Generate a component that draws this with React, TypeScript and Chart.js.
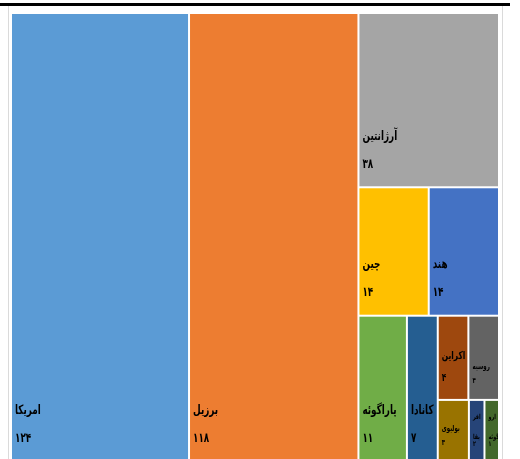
import React, { useEffect, useRef } from "react";
import { Chart, registerables } from "chart.js";

Chart.register(...registerables);

const countries = [
  "امریکا",
  "برزیل",
  "آرژانتین",
  "چین",
  "هند",
  "پاراگوئه",
  "کانادا",
  "اکراین",
  "روسیه",
  "بولیوی",
  "افریقا",
  "اروگوئه",
];
const production = [124, 118, 38, 14, 14, 11, 7, 4, 4, 3, 1.5, 1.4];
const colors = [
  "#5B9BD5",
  "#ED7D31",
  "#A5A5A5",
  "#FFC000",
  "#4472C4",
  "#70AD47",
  "#255E91",
  "#9E480E",
  "#636363",
  "#997300",
  "#264478",
  "#43682B",
];
// label font sizes (style only)
const labelSizes = [13, 13, 13, 13, 13, 13, 13, 13, 8, 8, 7, 7];
// nesting of the treemap (h = side by side, v = stacked), indices into the arrays above
type TNode = number | (string | TNode)[];
const layoutTree: TNode = ["h", 0, 1, ["v", 2, ["h", 3, 4], ["h", 5, 6, ["v", ["h", 7, 8], ["h", 9, 10, 11]]]]];

type Rect = { x0: number; y0: number; x1: number; y1: number };

function nodeSum(n: TNode): number {
  if (typeof n === "number") return production[n];
  return (n.slice(1) as TNode[]).reduce((a, c) => a + nodeSum(c), 0);
}

function doLayout(n: TNode, r: Rect, out: Rect[]) {
  if (typeof n === "number") {
    out[n] = r;
    return;
  }
  const dir = n[0];
  const kids = n.slice(1) as TNode[];
  const total = nodeSum(n);
  let acc = 0;
  for (const k of kids) {
    const s = nodeSum(k);
    const a = acc / total;
    const b = (acc + s) / total;
    acc += s;
    if (dir === "h") {
      doLayout(k, { x0: r.x0 + (r.x1 - r.x0) * a, x1: r.x0 + (r.x1 - r.x0) * b, y0: r.y0, y1: r.y1 }, out);
    } else {
      doLayout(k, { y0: r.y0 + (r.y1 - r.y0) * a, y1: r.y0 + (r.y1 - r.y0) * b, x0: r.x0, x1: r.x1 }, out);
    }
  }
}

const toFa = (v: number) => String(Math.round(v)).replace(/\d/g, (d) => "۰۱۲۳۴۵۶۷۸۹"[Number(d)]);
const FONT = '"DejaVu Sans", sans-serif';
const SX = 0.68;

function drawText(ctx: CanvasRenderingContext2D, t: string, x: number, y: number) {
  ctx.save();
  ctx.translate(x, y);
  ctx.scale(SX, 1);
  ctx.fillText(t, 0, 0);
  ctx.restore();
}

const treemapPlugin = {
  id: "treemapCells",
  beforeDraw(chart: any) {
    const ctx = chart.ctx;
    ctx.save();
    ctx.fillStyle = "#ffffff";
    ctx.fillRect(0, 0, chart.width, chart.height);
    ctx.strokeStyle = "#DADADA";
    ctx.lineWidth = 1;
    ctx.strokeRect(8.5, 5.5, 494, 470);
    ctx.fillStyle = "#000000";
    ctx.fillRect(0, 3, 510, 3);
    ctx.restore();
  },
  afterDatasetsDraw(chart: any) {
    const ctx = chart.ctx;
    const xs = chart.scales.x;
    const ys = chart.scales.y;
    const rects: Rect[] = [];
    doLayout(layoutTree, { x0: 0, y0: 0, x1: 1, y1: 1 }, rects);
    rects.forEach((r, i) => {
      const px0 = xs.getPixelForValue(r.x0) + 1;
      const px1 = xs.getPixelForValue(r.x1) - 1;
      const py0 = ys.getPixelForValue(r.y0) + 1;
      const py1 = ys.getPixelForValue(r.y1) - 1;
      ctx.save();
      ctx.fillStyle = colors[i];
      ctx.fillRect(px0, py0, px1 - px0, py1 - py0);
      ctx.beginPath();
      ctx.rect(px0, py0, px1 - px0, py1 - py0);
      ctx.clip();
      const w = px1 - px0 - 3;
      let fs = labelSizes[i];
      ctx.font = `bold ${fs}px ${FONT}`;
      while (fs > 10 && ctx.measureText(countries[i]).width * SX > w) {
        fs -= 1;
        ctx.font = `bold ${fs}px ${FONT}`;
      }
      let lines = [countries[i]];
      if (fs < 10 && ctx.measureText(countries[i]).width * SX > w) {
        const nm = countries[i];
        const nonJoin = "اآدذرزژو";
        let best = -1;
        for (let k = 1; k < nm.length; k++) {
          if (nonJoin.includes(nm[k - 1]) && (best < 0 || Math.abs(k - nm.length / 2) < Math.abs(best - nm.length / 2))) best = k;
        }
        if (best > 0) lines = [nm.slice(0, best), nm.slice(best)];
      }
      ctx.fillStyle = "#000000";
      ctx.textAlign = "left";
      ctx.textBaseline = "middle";
      const tx = px0 + 3;
      const valY = py1 - (11.6 + 0.8 * fs);
      drawText(ctx, toFa(production[i]), tx, valY);
      let ly = py1 - (3.2 + 3.6 * fs);
      if (lines.length > 1) ly += fs * 0.6;
      for (let k = lines.length - 1; k >= 0; k--) {
        drawText(ctx, lines[k], tx, ly);
        ly -= fs * 2.8;
      }
      ctx.restore();
    });
  },
};

export default function App() {
  const ref = useRef<HTMLCanvasElement | null>(null);
  useEffect(() => {
    if (!ref.current) return;
    const chart = new Chart(ref.current, {
      type: "scatter",
      data: { datasets: [{ label: "production", data: [], pointRadius: 0 }] },
      options: {
        animation: false,
        responsive: false,
        devicePixelRatio: 1,
        layout: { padding: { left: 11, right: 21, top: 13, bottom: 0 } },
        plugins: { legend: { display: false }, tooltip: { enabled: false } },
        scales: {
          x: { type: "linear", min: 0, max: 1, display: false },
          y: { type: "linear", min: 0, max: 446 / 449, reverse: true, display: false },
        },
      },
      plugins: [treemapPlugin],
    });
    return () => chart.destroy();
  }, []);
  return (
    <div style={{ position: "fixed", left: 0, top: 0, width: 520, height: 459, overflow: "hidden" }}>
      <canvas ref={ref} width={520} height={459} style={{ display: "block", width: 520, height: 459 }} />
    </div>
  );
}
